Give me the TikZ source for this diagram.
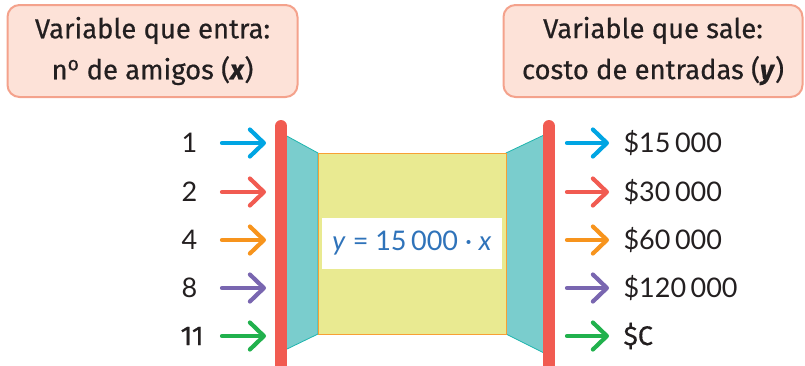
\documentclass[tikz,border=0pt]{standalone}
\usepackage{fontspec}
\setmainfont{Fira Sans}
\newfontfamily\numfont{Lato}
\usetikzlibrary{arrows.meta}
\definecolor{bsalmon}{HTML}{F4A28C}
\definecolor{bpink}{HTML}{FDE2D8}
\definecolor{bred}{HTML}{F15B51}
\definecolor{bteal}{HTML}{7ACDCD}
\definecolor{btealedge}{HTML}{1FB5AE}
\definecolor{byellow}{HTML}{E9EA91}
\definecolor{bborder}{HTML}{F7A035}
\definecolor{bblue}{HTML}{00A5E3}
\definecolor{borange}{HTML}{F7941D}
\definecolor{bpurp}{HTML}{7966B0}
\definecolor{bgreen}{HTML}{21B14D}
\definecolor{bformula}{HTML}{2F73BA}
\definecolor{btext}{HTML}{231F20}
\tikzstyle{titlebox} = [rectangle, draw=bsalmon, fill=bpink, line width=2pt, rounded corners=12pt, align=center, text=btext, font=\fontsize{27.4}{41}\selectfont\addfontfeatures{FakeBold=0.5}]
\tikzstyle{value} = [anchor=west, text=btext, font=\numfont\fontsize{27}{27}\selectfont]
\tikzstyle{arrow} = [draw, line width=4.2pt, line cap=round, -{Straight Barb[length=14pt, width=27pt, round]}]
\tikzstyle{bar} = [draw=bred, line width=12pt, line cap=round]
\tikzstyle{side} = [fill=bteal, draw=btealedge, line width=0.8pt]

\begin{document}
\begin{tikzpicture}[x=1pt, y=-1pt]
    \useasboundingbox (0,0) rectangle (805,365);

    % titles
    \node[titlebox, minimum width=290pt, minimum height=92pt] at (152.5, 51) (inbox) {Variable que entra:\\n\textsuperscript{o} de amigos (\textbf{\textit{x}})};
    \node[titlebox, minimum width=299pt, minimum height=92pt] at (653, 51) (outbox) {Variable que sale:\\costo de entradas (\textbf{\textit{y}})};

    % machine
    \path[side] (285,135) -- (318,153) -- (318,334) -- (285,350) -- cycle;
    \path[side] (506,153) -- (544,135) -- (544,353) -- (506,334) -- cycle;
    \filldraw[fill=byellow, draw=bborder, line width=1pt] (318,153) rectangle (506,334);
    \node[fill=white, minimum width=180pt, minimum height=51pt, text=bformula, font=\numfont\fontsize{27}{27}\selectfont] at (412, 243.5) (rule) {\textit{y} = 15\,000 · \textit{x}};

    \coordinate (intop) at (281,126);
    \coordinate (inbot) at (281,385);
    \coordinate (outtop) at (549,126);
    \coordinate (outbot) at (549,385);
    \path[bar] (intop) -- (inbot);
    \path[bar] (outtop) -- (outbot);

    % inputs
    \node[value] at (178,143) (x1) {1};
    \node[value] at (178,192) (x2) {2};
    \node[value] at (178,240) (x3) {4};
    \node[value] at (178,288) (x4) {8};
    \node[value, font=\fontsize{27}{27}\selectfont\addfontfeatures{FakeBold=0.4}] at (177,336) (x5) {11};

    \coordinate (ia1) at (222,143); \coordinate (ib1) at (266,143);
    \coordinate (ia2) at (222,192); \coordinate (ib2) at (266,192);
    \coordinate (ia3) at (222,240); \coordinate (ib3) at (266,240);
    \coordinate (ia4) at (222,288); \coordinate (ib4) at (266,288);
    \coordinate (ia5) at (222,336); \coordinate (ib5) at (266,336);
    \path[arrow, bblue] (ia1) -- (ib1);
    \path[arrow, bred] (ia2) -- (ib2);
    \path[arrow, borange] (ia3) -- (ib3);
    \path[arrow, bpurp] (ia4) -- (ib4);
    \path[arrow, bgreen] (ia5) -- (ib5);

    % outputs
    \coordinate (oa1) at (567,143); \coordinate (ob1) at (609,143);
    \coordinate (oa2) at (567,192); \coordinate (ob2) at (609,192);
    \coordinate (oa3) at (567,240); \coordinate (ob3) at (609,240);
    \coordinate (oa4) at (567,288); \coordinate (ob4) at (609,288);
    \coordinate (oa5) at (567,336); \coordinate (ob5) at (609,336);
    \path[arrow, bblue] (oa1) -- (ob1);
    \path[arrow, bred] (oa2) -- (ob2);
    \path[arrow, borange] (oa3) -- (ob3);
    \path[arrow, bpurp] (oa4) -- (ob4);
    \path[arrow, bgreen] (oa5) -- (ob5);

    \node[value] at (620,143) (y1) {\$15\,000};
    \node[value] at (620,192) (y2) {\$30\,000};
    \node[value] at (620,240) (y3) {\$60\,000};
    \node[value] at (620,288) (y4) {\$120\,000};
    \node[value, font=\fontsize{27}{27}\selectfont\addfontfeatures{FakeBold=0.4}] at (620,336) (y5) {\$C};
\end{tikzpicture}
\end{document}
